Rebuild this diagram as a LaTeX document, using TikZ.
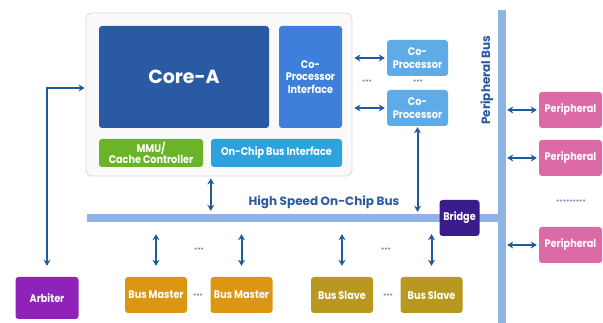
\documentclass[tikz,border=0pt]{standalone}
\usepackage{fontspec}
\setmainfont{Poppins}
\newfontfamily\boxfont[FakeStretch=0.88]{Poppins}
\usetikzlibrary{arrows.meta,calc}
\definecolor{coreC}{HTML}{2B5AA5}
\definecolor{cpiC}{HTML}{3D7FDB}
\definecolor{mmuC}{HTML}{6BB327}
\definecolor{obiC}{HTML}{2EA2DC}
\definecolor{cpC}{HTML}{5EABE8}
\definecolor{busC}{HTML}{8FB4E3}
\definecolor{arrC}{HTML}{1E5A9E}
\definecolor{bridgeC}{HTML}{3A1D8A}
\definecolor{arbC}{HTML}{8F22B8}
\definecolor{bmC}{HTML}{DC9612}
\definecolor{bsC}{HTML}{B8981F}
\definecolor{perC}{HTML}{DC6AA6}
\definecolor{txtC}{HTML}{2C5AA0}
\definecolor{dotC}{HTML}{7F93B5}
\begin{document}
\begin{tikzpicture}[x=1pt,y=-1pt,
  box/.style={rectangle, rounded corners=3pt, text=white, align=center, inner sep=0pt,
    font=\boxfont\bfseries\fontsize{11}{12.5}\selectfont},
  busbar/.style={rectangle, fill=busC, inner sep=0pt},
  dbl/.style={{Stealth[length=6pt,width=7pt]}-{Stealth[length=6pt,width=7pt]}, line width=2pt, draw=arrC},
  dots/.style={text=dotC, font=\bfseries\fontsize{11}{11}\selectfont, inner sep=0pt},
  bustext/.style={text=txtC, font=\bfseries\fontsize{12}{12}\selectfont, inner sep=0pt}]
\useasboundingbox (0,0) rectangle (603,323);
% container
\node[rectangle, rounded corners=6pt, fill=black!2, draw=black!15, line width=0.8pt,
  minimum width=266, minimum height=163, inner sep=0pt] (container) at (219,94.5) {};
\node[box, fill=coreC, minimum width=170, minimum height=102, font=\bfseries\fontsize{19}{20}\selectfont] (core) at (184,77) {Core-A};
\node[box, fill=cpiC, minimum width=63, minimum height=102] (cpi) at (310.5,77) {Co-\\Processor\\Interface};
\node[box, fill=mmuC, minimum width=104, minimum height=28, font=\boxfont\bfseries\fontsize{11}{10.5}\selectfont] (mmu) at (151,153) {MMU/\\Cache Controller};
\node[box, fill=obiC, minimum width=131, minimum height=28] (obi) at (276.5,153) {On-Chip Bus Interface};
% co-processors
\node[box, fill=cpC, minimum width=61, minimum height=36] (cp1) at (417.5,58) {Co-\\Processor};
\node[box, fill=cpC, minimum width=61, minimum height=36] (cp2) at (417.5,108) {Co-\\Processor};
% buses
\node[busbar, minimum width=8, minimum height=313] (pbus) at (502,166.5) {};
\node[busbar, minimum width=415, minimum height=8] (hbus) at (294.5,218) {};
\node[box, fill=bridgeC, minimum width=40, minimum height=36] (bridge) at (459.5,218) {Bridge};
\node[bustext] (hlabel) at (324,202) {High Speed On-Chip Bus};
\node[bustext, rotate=90] (plabel) at (487,80) {Peripheral Bus};
% lower boxes
\node[box, fill=arbC, minimum width=63, minimum height=42] (arb) at (47,298) {Arbiter};
\node[box, fill=bmC, minimum width=62, minimum height=36] (bm1) at (156,295) {Bus Master};
\node[box, fill=bmC, minimum width=62, minimum height=36] (bm2) at (241.5,295) {Bus Master};
\node[box, fill=bsC, minimum width=62, minimum height=36] (bs1) at (342,295) {Bus Slave};
\node[box, fill=bsC, minimum width=62, minimum height=36] (bs2) at (431.5,295) {Bus Slave};
% peripherals
\node[box, fill=perC, minimum width=63, minimum height=36] (per1) at (570.5,110) {Peripheral};
\node[box, fill=perC, minimum width=63, minimum height=36] (per2) at (570.5,158) {Peripheral};
\node[box, fill=perC, minimum width=63, minimum height=36] (per3) at (570.5,245) {Peripheral};
% dots
\node[dots] (d1) at (367,82) {···};
\node[dots] (d2) at (418,82) {···};
\node[dots] (d3) at (199,250) {···};
\node[dots] (d4) at (386,250) {···};
\node[dots] (d5) at (198,296) {···};
\node[dots] (d6) at (388,296) {···};
\node[dots] (d7) at (571,202) {·········};
% arrows
\draw[dbl, shorten <=2pt, shorten >=2pt] (container.east |- cp1) -- (cp1.west);
\draw[dbl, shorten <=2pt, shorten >=2pt] (container.east |- cp2) -- (cp2.west);
\draw[dbl, shorten <=1pt, shorten >=2pt] (cp2.south) -- (cp2.south |- hbus.north);
\draw[dbl, shorten <=2pt, shorten >=3pt] (obi.south west |- container.south) -- (obi.south west |- hbus.north);
\draw[dbl, shorten <=11pt, shorten >=1pt] (arb.north) |- ($(container.west)+(0,-6.5)$);
\foreach \n in {bm1,bm2,bs1,bs2}{
  \draw[dbl, shorten <=12pt, shorten >=11pt] (\n.north |- hbus.south) -- (\n.north);
}
\foreach \n in {per1,per2,per3}{
  \draw[dbl, shorten <=1pt, shorten >=2pt] (pbus.east |- \n) -- (\n.west);
}
\end{tikzpicture}
\end{document}
